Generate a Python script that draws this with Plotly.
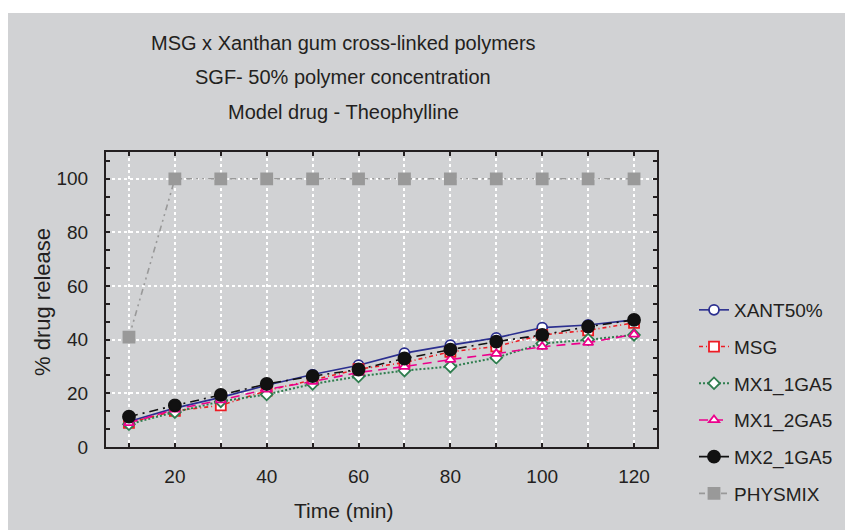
import plotly.graph_objects as go

# ---- data ----
time_min = [10, 20, 30, 40, 50, 60, 70, 80, 90, 100, 110, 120]
xant50 = [9.5, 14.5, 18.5, 23.0, 27.0, 30.5, 35.0, 38.0, 40.7, 44.5, 45.5, 47.4]
msg = [9.0, 13.5, 15.5, 21.0, 25.0, 29.0, 31.5, 35.5, 37.5, 41.8, 43.5, 46.3]
mx1_1ga5 = [8.5, 13.0, 17.0, 19.6, 23.5, 26.3, 28.5, 30.0, 33.3, 38.6, 40.0, 41.8]
mx1_2ga5 = [9.0, 14.0, 17.5, 21.5, 24.4, 27.8, 30.0, 32.6, 34.8, 37.4, 38.9, 42.0]
mx2_1ga5 = [11.3, 15.5, 19.4, 23.5, 26.4, 28.9, 33.0, 36.3, 39.3, 41.8, 44.9, 47.4]
physmix = [41.0, 100, 100, 100, 100, 100, 100, 100, 100, 100, 100, 100]

series_names = ["XANT50%", "MSG", "MX1_1GA5", "MX1_2GA5", "MX2_1GA5", "PHYSMIX"]
title_lines = ["MSG x Xanthan gum cross-linked polymers",
               "SGF- 50% polymer concentration",
               "Model drug - Theophylline"]
x_ticks = [20, 40, 60, 80, 100, 120]
y_ticks = [0, 20, 40, 60, 80, 100]

# ---- layout geometry (pixels) ----
W, H = 845, 530
L, R, T, B = 106, 657, 152, 447
PW, PH = R - L, B - T
BG = "#d1d2d4"
TXT = "#231f20"
FONT = "Liberation Sans, Arial, sans-serif"


def px(x):
    return (x - L) / PW


def py(y):
    return (B - y) / PH


styles = [
    dict(color="#2b2f8f", dash="solid", width=1.6, symbol="circle-open", msize=10, mfill="white"),
    dict(color="#ed1c24", dash="4px,3px,1px,3px", width=1.6, symbol="square-open", msize=10, mfill="white"),
    dict(color="#2e7d4e", dash="2px,2px", width=2, symbol="diamond-open", msize=9, mfill="white"),
    dict(color="#ec008c", dash="9px,6px", width=1.6, symbol="triangle-up-open", msize=9, mfill="white"),
    dict(color="#111111", dash="9px,5px,2px,5px", width=1.6, symbol="circle", msize=12, mfill="#111111"),
    dict(color="#999999", dash="6px,4px,2px,4px,2px,4px", width=1.6, symbol="square", msize=11, mfill="#999999"),
]
data = [xant50, msg, mx1_1ga5, mx1_2ga5, mx2_1ga5, physmix]

fig = go.Figure()
for i in range(6):
    s = styles[i]
    mk = dict(size=s["msize"], line=dict(color=s["color"], width=1.8))
    if "open" in s["symbol"]:
        mk["symbol"] = s["symbol"].replace("-open", "")
        mk["color"] = "white"
    else:
        mk["symbol"] = s["symbol"]
        mk["color"] = s["mfill"]
    fig.add_trace(go.Scatter(
        x=time_min, y=data[i], name=series_names[i], mode="lines+markers",
        line=dict(color=s["color"], dash=s["dash"], width=s["width"]),
        marker=mk, legendgroup=series_names[i], legendrank=i + 1,
    ))

fig.update_layout(
    width=W, height=H,
    margin=dict(l=L, r=W - R, t=T, b=H - B, pad=0, autoexpand=False),
    paper_bgcolor=BG,
    plot_bgcolor="rgba(0,0,0,0)",
    font=dict(family=FONT, color=TXT, size=19),
    showlegend=True,
    legend=dict(x=px(694), y=py(291), xanchor="left", yanchor="top",
                bgcolor="rgba(0,0,0,0)", font=dict(size=19, family=FONT, color=TXT),
                tracegroupgap=9, traceorder="grouped", itemwidth=30),
    shapes=[
        dict(type="rect", xref="paper", yref="paper",
             x0=px(-5), x1=px(W + 5), y0=py(13), y1=py(-5),
             fillcolor="white", line=dict(width=0), layer="below"),
        dict(type="rect", xref="paper", yref="paper",
             x0=px(-5), x1=px(8), y0=py(H + 5), y1=py(-5),
             fillcolor="white", line=dict(width=0), layer="below"),
    ],
)

fig.update_xaxes(
    range=[5, 125], tickmode="array", tickvals=x_ticks,
    ticks="inside", ticklen=4, tickwidth=1.5, tickcolor="#231f20",
    showline=True, linecolor="#231f20", linewidth=2, mirror="ticks",
    showgrid=True, gridcolor="white", griddash="dot", gridwidth=1.5,
    minor=dict(tickmode="array", tickvals=[10, 30, 50, 70, 90, 110], ticks="inside",
               ticklen=4, tickcolor="#231f20", showgrid=True, gridcolor="white",
               griddash="dot", gridwidth=1.5),
    tickfont=dict(size=19), zeroline=False, ticklabelstandoff=11,
)
fig.update_yaxes(
    range=[0, 110], tickmode="array", tickvals=y_ticks,
    ticks="inside", ticklen=4, tickwidth=1.5, tickcolor="#231f20",
    showline=True, linecolor="#231f20", linewidth=2, mirror="ticks",
    showgrid=True, gridcolor="white", griddash="dot", gridwidth=1.5,
    minor=dict(dtick=20 / 3, tick0=0, ticks="inside", ticklen=4, tickcolor="#231f20", showgrid=False),
    tickfont=dict(size=19), zeroline=False, ticklabelstandoff=12,
)

ann = []
for txt, yy in zip(title_lines, [43, 77, 112]):
    ann.append(dict(text=txt, x=px(343), y=py(yy), xref="paper", yref="paper",
                    showarrow=False, xanchor="center", yanchor="middle",
                    font=dict(size=20, family=FONT, color=TXT)))
ann.append(dict(text="% drug release", x=px(42), y=py(302), xref="paper", yref="paper",
                showarrow=False, textangle=-90, xanchor="center", yanchor="middle",
                font=dict(size=22, family=FONT, color=TXT)))
ann.append(dict(text="Time (min)", x=px(344), y=py(510), xref="paper", yref="paper",
                showarrow=False, xanchor="center", yanchor="middle",
                font=dict(size=21, family=FONT, color=TXT)))
fig.update_layout(annotations=ann)

fig.write_html("out.html")
